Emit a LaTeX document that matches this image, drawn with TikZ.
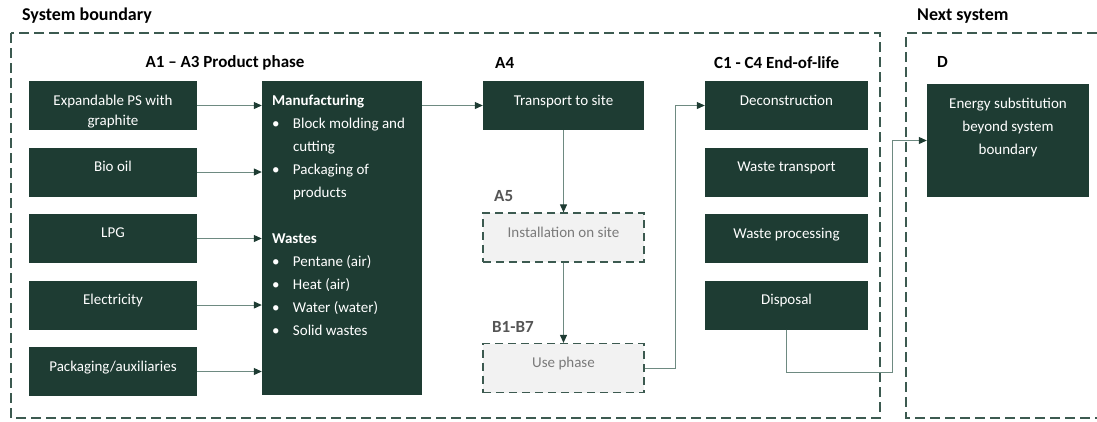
\documentclass[tikz,border=0pt]{standalone}
\usepackage{fontspec}
\setmainfont{Carlito}
\usetikzlibrary{arrows.meta, positioning}
\definecolor{boxgreen}{HTML}{1E3C33}
\definecolor{framegreen}{HTML}{3C5A50}
\definecolor{flowgreen}{HTML}{6E8A81}
\definecolor{lightfill}{HTML}{F2F2F2}
\definecolor{lighttext}{HTML}{7A7A7A}
\definecolor{labelgray}{HTML}{555555}

\begin{document}
\begin{tikzpicture}[
        x=1pt, y=-1pt, node distance=66.5pt, on grid,
        >={Triangle[length=8pt,width=7pt]},
        every node/.style={font=\fontsize{15}{23}\selectfont},
        stage/.style={fill=boxgreen, minimum width=168pt, minimum height=49pt, inner sep=0pt,
            label={[stagetext]north:{#1}}},
        stagetext/.style={anchor=north, yshift=-14pt, text=white, align=center, inner sep=0pt},
        optstage/.style={fill=lightfill, draw=framegreen, line width=1.2pt, dash pattern=on 8pt off 5pt,
            minimum width=161pt, minimum height=49pt, inner sep=0pt,
            label={[stagetext, text=lighttext]north:{#1}}},
        heading/.style={font=\fontsize{17}{20}\selectfont\bfseries, anchor=west, inner sep=0pt},
        boundary/.style={draw=framegreen, line width=1.3pt, dash pattern=on 10pt off 5pt},
        flow/.style={->, draw=flowgreen, line width=1pt, >={Triangle[length=8pt,width=7pt,color=boxgreen]}},
        ]
        \useasboundingbox (0,0) rectangle (1097,421);

        % frames
        \draw[boundary] (11,33) rectangle (880,418);
        \draw[boundary] (1097,33) -- (906,33) -- (906,418) -- (1097,418);
        \node[heading, font=\fontsize{18}{20}\selectfont\bfseries] (sysb) at (22,16) {System boundary};
        \node[heading, font=\fontsize{18}{20}\selectfont\bfseries] (nexts) at (917,16) {Next system};

        % A1 - A3
        \node[heading, anchor=center] (hA) at (225,63) {A1 – A3 Product phase};
        \node[stage={Expandable PS with\\[-3pt]graphite}] (eps) at (113,105.5) {};
        \node[stage={Bio oil}]              (bio)  [below=of eps]  {};
        \node[stage={LPG}]                  (lpg)  [below=of bio]  {};
        \node[stage={Electricity}]          (elec) [below=of lpg]  {};
        \node[stage={Packaging/auxiliaries}] (pack) [below=of elec] {};
        \node[fill=boxgreen, minimum width=160pt, minimum height=314pt, inner sep=0pt,
            label={[anchor=north west, xshift=10pt, yshift=-14pt, text=white, align=left, inner sep=0pt]north west:{%
            \textbf{Manufacturing}\\
            \makebox[21pt][l]{\textbullet}Block molding and\\
            \hspace*{21pt}cutting\\
            \makebox[21pt][l]{\textbullet}Packaging of\\
            \hspace*{21pt}products\\[23pt]
            \textbf{Wastes}\\
            \makebox[21pt][l]{\textbullet}Pentane (air)\\
            \makebox[21pt][l]{\textbullet}Heat (air)\\
            \makebox[21pt][l]{\textbullet}Water (water)\\
            \makebox[21pt][l]{\textbullet}Solid wastes}}] (manu) at (342,238) {};

        % A4, A5, B1-B7
        \node[heading] (hAfour) at (495,63) {A4};
        \node[stage={Transport to site}, minimum width=161pt] (transp) at (563.5,105.5) {};
        \node[heading, text=labelgray] (hAfive) at (494,196) {A5};
        \node[optstage={Installation on site}] (install) at (563.5,237.5) {};
        \node[heading, text=labelgray] (hB) at (492,327) {B1-B7};
        \node[optstage={Use phase}] (use) at (563.5,368) {};

        % C1 - C4
        \node[heading] (hC) at (714,63) {C1 - C4 End-of-life};
        \node[stage={Deconstruction}, minimum width=163pt]   (decon)  at (786.5,105.5) {};
        \node[stage={Waste transport}, minimum width=163pt]  (wtrans) [below=of decon]  {};
        \node[stage={Waste processing}, minimum width=163pt] (wproc)  [below=of wtrans] {};
        \node[stage={Disposal}, minimum width=163pt]         (disp)   [below=of wproc]  {};

        % D
        \node[heading] (hD) at (937,62) {D};
        \node[stage={Energy substitution\\beyond system\\boundary}, minimum width=162pt, minimum height=113pt] (subst) at (1008,140.5) {};

        % flows
        \foreach \src in {eps, bio, lpg, elec, pack}
            \draw[flow] (\src) -- (\src -| manu.west);
        \draw[flow] (manu.east |- transp) -- (transp);
        \draw[flow] (transp) -- (install);
        \draw[flow] (install) -- (use);
        \draw[flow] (use.east) -- ++(31,0) |- (decon.west);
        \draw[flow] (disp.south) -- ++(0,43) -| ([xshift=-34pt]subst.west) -- (subst.west);
      \end{tikzpicture}
\end{document}
